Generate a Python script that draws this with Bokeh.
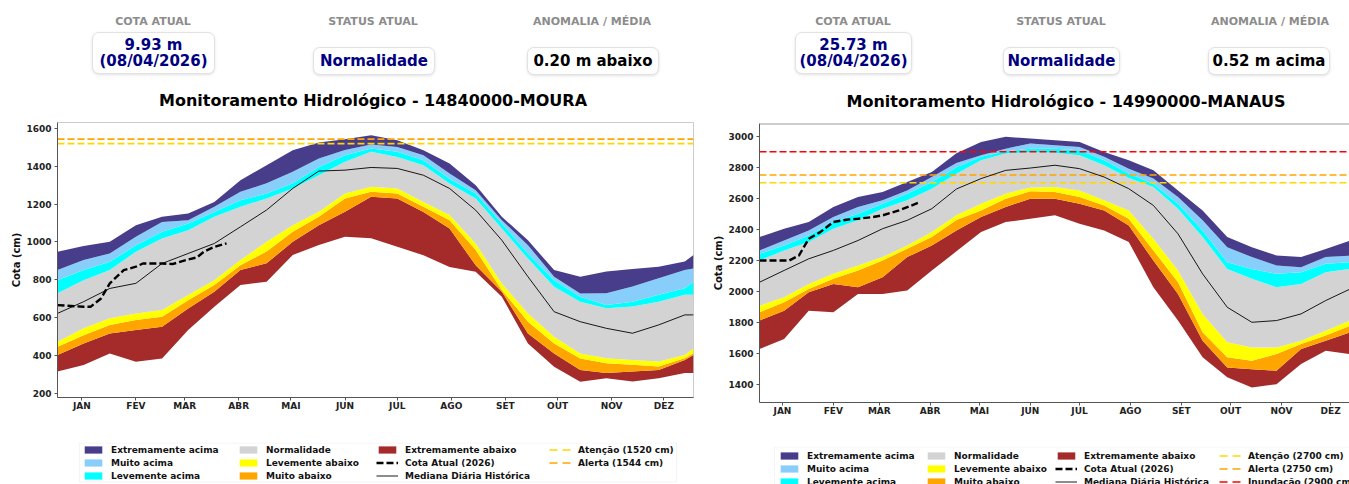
from bokeh.plotting import figure
from bokeh.models import Range1d, FixedTicker, Span, Legend, LegendItem, Div, BoxAnnotation
from bokeh.layouts import row, column
from bokeh.embed import file_html
from bokeh.resources import INLINE

FONT = "DejaVu Sans"

MONTH_TICKS = [14, 45, 73, 104, 134, 165, 195, 226, 257, 287, 318, 348]
MONTH_LABELS = ["JAN", "FEV", "MAR", "ABR", "MAI", "JUN", "JUL", "AGO", "SET", "OUT", "NOV", "DEZ"]

# ---------------- 14840000 - MOURA ----------------
M_DAYS = [0, 15, 30, 45, 60, 75, 90, 105, 120, 135, 150, 165, 180, 195, 210, 225, 240, 255, 270, 285, 300, 315, 330, 345, 360, 365]
M_MAX = [948, 978, 1001, 1089, 1133, 1151, 1212, 1327, 1406, 1485, 1526, 1544, 1565, 1538, 1485, 1415, 1300, 1133, 1009, 851, 816, 843, 857, 869, 896, 931]
M_Q6 = [851, 904, 939, 1027, 1106, 1115, 1186, 1265, 1310, 1371, 1442, 1486, 1515, 1503, 1459, 1362, 1274, 1115, 983, 816, 727, 728, 764, 808, 851, 860]
M_Q5 = [798, 851, 895, 983, 1054, 1098, 1159, 1221, 1257, 1310, 1397, 1459, 1495, 1477, 1432, 1335, 1256, 1098, 939, 798, 710, 667, 684, 720, 755, 790]
M_Q4 = [728, 798, 851, 948, 1018, 1062, 1133, 1186, 1230, 1283, 1353, 1424, 1477, 1450, 1406, 1309, 1230, 1071, 912, 763, 683, 649, 658, 684, 720, 720]
M_Q3 = [472, 543, 596, 622, 640, 719, 798, 904, 1001, 1089, 1160, 1257, 1292, 1283, 1212, 1142, 992, 780, 622, 498, 410, 385, 376, 367, 402, 438]
M_Q2 = [446, 507, 560, 587, 604, 692, 772, 877, 949, 1054, 1133, 1230, 1265, 1257, 1186, 1115, 957, 745, 578, 463, 384, 358, 350, 341, 385, 411]
M_Q1 = [402, 463, 516, 534, 551, 648, 736, 851, 887, 1001, 1089, 1160, 1239, 1230, 1159, 1071, 877, 736, 516, 410, 322, 306, 315, 323, 376, 402]
M_MIN = [314, 349, 410, 366, 384, 534, 657, 772, 790, 931, 984, 1028, 1019, 975, 930, 868, 842, 710, 463, 340, 260, 279, 262, 279, 306, 306]
M_MED = [622, 684, 754, 781, 886, 939, 992, 1080, 1169, 1283, 1375, 1380, 1394, 1389, 1353, 1283, 1168, 1009, 816, 631, 578, 543, 517, 561, 614, 614]
M_CUR_DAYS = [0, 15, 19, 25, 30, 38, 45, 49, 60, 66, 75, 80, 84, 90, 97]
M_CUR = [666, 657, 657, 701, 781, 851, 869, 886, 886, 883, 907, 918, 948, 974, 992]
M_THRESH = [("Atenção (1520 cm)", 1520, "#FFD700"), ("Alerta (1544 cm)", 1544, "#FFA500")]
M_YTICKS = [200, 400, 600, 800, 1000, 1200, 1400, 1600]
M_COTA, M_DATA, M_STATUS, M_ANOM = "9.93 m", "(08/04/2026)", "Normalidade", "0.20 m abaixo"
M_TITLE = "Monitoramento Hidrológico - 14840000-MOURA"

# ---------------- 14990000 - MANAUS ----------------
A_DAYS = [0, 15, 30, 45, 60, 75, 90, 105, 120, 135, 150, 165, 180, 195, 210, 225, 240, 255, 270, 285, 300, 315, 330, 345, 360]
A_MAX = [2350, 2404, 2447, 2544, 2608, 2640, 2705, 2770, 2890, 2963, 2996, 2985, 2974, 2963, 2899, 2845, 2780, 2651, 2522, 2350, 2285, 2231, 2221, 2274, 2328]
A_Q6 = [2264, 2328, 2393, 2479, 2544, 2587, 2651, 2737, 2828, 2877, 2920, 2953, 2942, 2931, 2867, 2790, 2727, 2608, 2458, 2285, 2221, 2167, 2156, 2221, 2231]
A_Q5 = [2242, 2296, 2361, 2447, 2501, 2565, 2630, 2705, 2800, 2867, 2903, 2920, 2920, 2910, 2845, 2760, 2694, 2565, 2393, 2188, 2145, 2113, 2124, 2178, 2188]
A_Q4 = [2199, 2264, 2318, 2404, 2458, 2533, 2587, 2662, 2758, 2845, 2888, 2899, 2894, 2877, 2813, 2730, 2673, 2533, 2350, 2145, 2081, 2027, 2048, 2124, 2145]
A_Q3 = [1908, 1962, 2048, 2113, 2167, 2221, 2296, 2382, 2490, 2565, 2630, 2670, 2673, 2651, 2587, 2522, 2339, 2135, 1855, 1672, 1639, 1639, 1682, 1747, 1812]
A_Q2 = [1865, 1930, 2016, 2081, 2135, 2199, 2275, 2350, 2460, 2522, 2597, 2645, 2640, 2608, 2554, 2468, 2264, 2059, 1736, 1575, 1553, 1596, 1661, 1715, 1779]
A_Q1 = [1812, 1876, 1995, 2048, 2027, 2091, 2221, 2296, 2393, 2479, 2544, 2597, 2597, 2565, 2522, 2425, 2199, 1984, 1682, 1510, 1499, 1489, 1629, 1682, 1736]
A_MIN = [1629, 1693, 1876, 1865, 1984, 1984, 2005, 2135, 2258, 2382, 2447, 2468, 2490, 2436, 2393, 2318, 2027, 1812, 1575, 1446, 1381, 1402, 1532, 1618, 1596]
A_MED = [2059, 2135, 2210, 2264, 2328, 2404, 2458, 2533, 2660, 2727, 2780, 2795, 2813, 2791, 2737, 2662, 2554, 2371, 2113, 1898, 1801, 1812, 1855, 1941, 2016]
A_CUR_DAYS = [0, 6, 18, 24, 30, 37, 45, 53, 60, 69, 75, 85, 98]
A_CUR = [2199, 2199, 2199, 2231, 2339, 2382, 2447, 2462, 2468, 2479, 2490, 2522, 2576]
A_THRESH = [("Atenção (2700 cm)", 2700, "#FFD700"), ("Alerta (2750 cm)", 2750, "#FFA500"), ("Inundação (2900 cm)", 2900, "#FF0000")]
A_YTICKS = [1400, 1600, 1800, 2000, 2200, 2400, 2600, 2800, 3000]
A_COTA, A_DATA, A_STATUS, A_ANOM = "25.73 m", "(08/04/2026)", "Normalidade", "0.52 m acima"
A_TITLE = "Monitoramento Hidrológico - 14990000-MANAUS"

BAND_NAMES = ["Extremamente abaixo", "Muito abaixo", "Levemente abaixo", "Normalidade",
              "Levemente acima", "Muito acima", "Extremamente acima"]
BAND_COLORS = ["#A52A2A", "#FFA500", "#FFFF00", "#D3D3D3", "#00FFFF", "#87CEFA", "#483D8B"]
LEGEND_ORDER = ["Extremamente acima", "Muito acima", "Levemente acima",
                "Normalidade", "Levemente abaixo", "Muito abaixo", "Extremamente abaixo"]
CUR_STYLE = dict(line_color="black", line_width=2.4, line_dash="7 3")
MED_STYLE = dict(line_color="black", line_width=0.9)


def header(width, height, label_cx, label_cy, cards, title, title_cx, title_cy):
    labels = ["COTA ATUAL", "STATUS ATUAL", "ANOMALIA / MÉDIA"]
    h = [f'<div style="position:relative;width:{width}px;height:{height}px;margin:0;padding:0;'
         f'font-family:\'DejaVu Sans\',sans-serif;">']
    for lab, cx in zip(labels, label_cx):
        h.append(f'<div style="position:absolute;left:{cx-110}px;width:220px;top:{label_cy-8}px;height:16px;'
                 f'line-height:16px;text-align:center;font-size:11px;font-weight:bold;color:#8c8c8c;">{lab}</div>')
    for (x0, y0, w, hh, lines, color) in cards:
        inner = "".join(f"<div>{t}</div>" for t in lines)
        h.append(f'<div style="position:absolute;left:{x0}px;top:{y0}px;width:{w}px;height:{hh}px;'
                 f'box-sizing:border-box;border:1px solid #e2e2e2;border-radius:7px;'
                 f'box-shadow:0 1px 3px rgba(0,0,0,0.12);display:flex;flex-direction:column;'
                 f'align-items:center;justify-content:center;font-size:15px;font-weight:bold;'
                 f'line-height:16px;color:{color};background:#ffffff;">{inner}</div>')
    h.append(f'<div style="position:absolute;left:{title_cx-330}px;width:660px;top:{title_cy-10}px;'
             f'height:20px;line-height:20px;text-align:center;font-size:16px;font-weight:bold;'
             f'color:#000000;">{title}</div>')
    h.append("</div>")
    return Div(text="".join(h), width=width, height=height, margin=0)


def draw_series(p, days, bounds, med, cur_days, cur, thresh, dash_thr):
    bands = {}
    for i, (nm, col) in enumerate(zip(BAND_NAMES, BAND_COLORS)):
        bands[nm] = p.varea(x=days, y1=bounds[i], y2=bounds[i + 1], fill_color=col)
    thr = []
    for lab, val, col in thresh:
        r = p.line(x=[days[0], days[-1]], y=[val, val], line_color=col, line_width=1.6, line_dash=dash_thr)
        thr.append((lab, r))
    rmed = p.line(x=days, y=med, **MED_STYLE)
    rcur = p.line(x=cur_days, y=cur, **CUR_STYLE)
    return bands, thr, rmed, rcur


def chart(days, bounds, med, cur_days, cur, thresh, xend, yrange, yticks,
          width, height, mb_left, mb_right, mb_bottom, outline):
    p = figure(width=width, height=height,
               x_range=Range1d(0, xend), y_range=Range1d(*yrange),
               output_backend="svg", toolbar_location=None, margin=0,
               min_border_left=mb_left, min_border_right=mb_right,
               min_border_top=2, min_border_bottom=mb_bottom)
    p.xgrid.visible = False
    p.ygrid.visible = False
    if outline:
        p.outline_line_color = "#cccccc"
    else:
        p.outline_line_color = None
        p.add_layout(Span(location=yrange[1], dimension="width", line_color="#999999", line_width=2))

    draw_series(p, days, bounds, med, cur_days, cur, thresh, "7 3")

    p.xaxis.ticker = FixedTicker(ticks=MONTH_TICKS)
    p.xaxis.major_label_overrides = {t: l for t, l in zip(MONTH_TICKS, MONTH_LABELS)}
    p.yaxis.ticker = FixedTicker(ticks=yticks)
    p.yaxis.axis_label = "Cota (cm)"
    for ax in (p.xaxis[0], p.yaxis[0]):
        ax.major_label_text_font = FONT
        ax.major_label_text_font_size = "9px"
        ax.major_label_text_font_style = "bold"
        ax.major_label_text_color = "#222222"
        ax.major_tick_in = 0
        ax.major_tick_out = 3
        ax.minor_tick_line_color = None
        ax.major_label_standoff = 3
        ax.axis_line_color = "#555555"
        ax.major_tick_line_color = "#555555"
    p.xaxis.major_label_standoff = 0
    p.yaxis.axis_label_text_font = FONT
    p.yaxis.axis_label_text_font_size = "10px"
    p.yaxis.axis_label_text_font_style = "bold"
    p.yaxis.axis_label_text_color = "#111111"
    p.yaxis.axis_label_standoff = 1
    return p


def legend_panel(width, height, mb_left, mb_right, frame_w, box, col_x, vy,
                 days, bounds, med, cur_days, cur, thresh):
    # Frame aligned with the chart above; 1 unit = 1 px. The series are drawn
    # again outside this view, only so that the legends can show their swatches.
    frame_h = height - 1
    lf = figure(width=width, height=height, x_range=Range1d(0, frame_w), y_range=Range1d(0, frame_h),
                output_backend="svg", toolbar_location=None, margin=0,
                x_axis_location=None, y_axis_location=None,
                min_border_left=mb_left, min_border_right=mb_right,
                min_border_top=1, min_border_bottom=0)
    lf.outline_line_color = None
    lf.xgrid.visible = False
    lf.ygrid.visible = False
    bands, thr, rmed, rcur = draw_series(lf, days, bounds, med, cur_days, cur, thresh, "8 5")
    bl, br, bb, bt = box
    lf.add_layout(BoxAnnotation(left=bl, right=br, bottom=bb, top=bt, fill_color=None,
                                fill_alpha=0.0, line_color="#d6d6d6", line_width=1))
    cols = [
        [(n, bands[n]) for n in LEGEND_ORDER[:3]],
        [(n, bands[n]) for n in LEGEND_ORDER[3:6]],
        [(LEGEND_ORDER[6], bands[LEGEND_ORDER[6]]),
         ("Cota Atual (2026)", rcur), ("Mediana Diária Histórica", rmed)],
        thr,
    ]
    pitch = 13
    for cx, its in zip(col_x, cols):
        leg = Legend(items=[LegendItem(label=l, renderers=[r]) for l, r in its],
                     location=(cx, vy + (3 - len(its)) * pitch), orientation="vertical",
                     label_text_font=FONT, label_text_font_size="9px", label_text_font_style="bold",
                     label_text_color="#111111",
                     glyph_width=22, glyph_height=9, label_height=11, label_standoff=7,
                     spacing=2, padding=0, margin=0,
                     border_line_color=None, background_fill_alpha=0.0)
        lf.add_layout(leg)
    return lf


M_BOUNDS = [M_MIN, M_Q1, M_Q2, M_Q3, M_Q4, M_Q5, M_Q6, M_MAX]
A_BOUNDS = [A_MIN, A_Q1, A_Q2, A_Q3, A_Q4, A_Q5, A_Q6, A_MAX]

left_head = header(702, 112, [145, 365, 584], 14,
                   [(84, 24, 123, 42, [M_COTA, M_DATA], "#000080"),
                    (305, 39, 122, 28, [M_STATUS], "#000080"),
                    (519, 39, 132, 28, [M_ANOM], "#000000")],
                   M_TITLE, 365, 93)
left_fig = chart(M_DAYS, M_BOUNDS, M_MED, M_CUR_DAYS, M_CUR, M_THRESH, 365, (177, 1632), M_YTICKS,
                 702, 321, 45, 17, 44, True)
left_leg = legend_panel(702, 44, 45, 17, 640, (22, 623, 3.5, 42.5), [25, 180, 319, 492], 4,
                        M_DAYS, M_BOUNDS, M_MED, M_CUR_DAYS, M_CUR, M_THRESH)

right_head = header(639, 113, [143, 351, 560], 14,
                    [(85, 24, 117, 42, [A_COTA, A_DATA], "#000080"),
                     (293, 39, 117, 28, [A_STATUS], "#000080"),
                     (498, 39, 122, 28, [A_ANOM], "#000000")],
                    A_TITLE, 356, 94)
right_fig = chart(A_DAYS, A_BOUNDS, A_MED, A_CUR_DAYS, A_CUR, A_THRESH, 359.5, (1284, 3082), A_YTICKS,
                  639, 324, 48, 0, 43, False)
right_leg = legend_panel(639, 45, 48, 0, 591, (15, 640, 1, 43.5), [19, 166, 296, 460], 3,
                         A_DAYS, A_BOUNDS, A_MED, A_CUR_DAYS, A_CUR, A_THRESH)

layout = row(column(left_head, left_fig, left_leg, spacing=0),
             column(right_head, right_fig, right_leg, spacing=0),
             spacing=0, margin=(8, 0, 0, 8))
open("out.html", "w").write(file_html(layout, INLINE))
